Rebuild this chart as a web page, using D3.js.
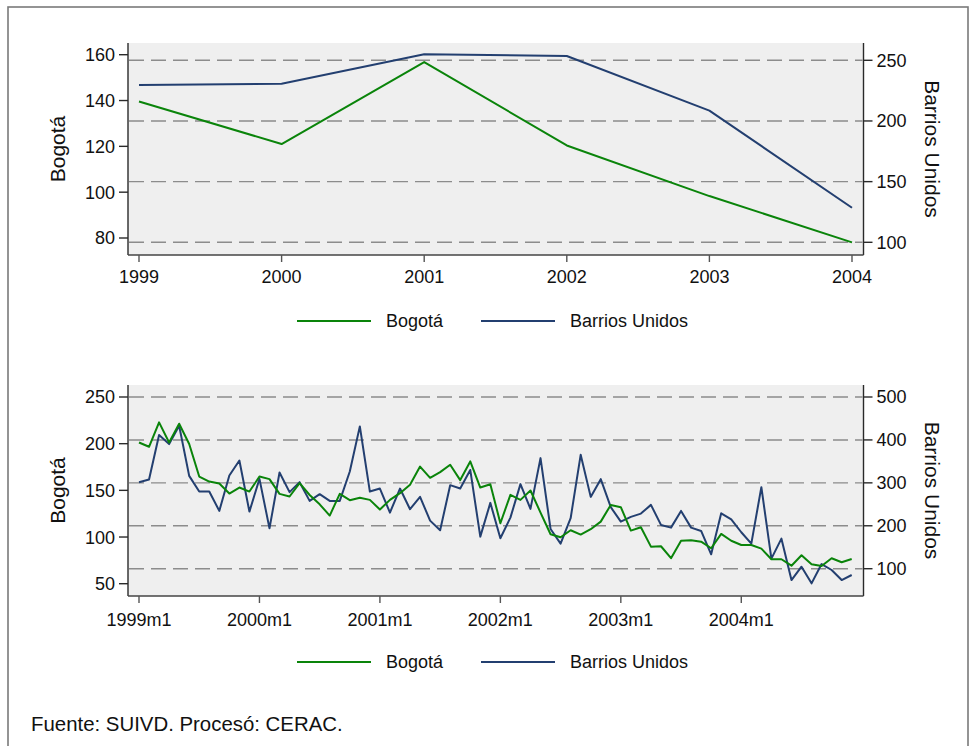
<!DOCTYPE html>
<html>
<head>
<meta charset="utf-8">
<script src="https://cdn.jsdelivr.net/npm/d3@7"></script>
<style>
html,body{margin:0;padding:0;background:#fff;}
svg{display:block;font-family:"Liberation Sans",Arial,sans-serif;}
</style>
</head>
<body>
<svg id="chart" width="971" height="746"></svg>
<script>
// ---------- DATA ----------
const years = [1999, 2000, 2001, 2002, 2003, 2004];
const bogotaAnnual = [139.6, 121.0, 156.8, 120.4, 98.3, 78.1];
const barriosAnnual = [229.6, 230.7, 255.0, 253.5, 208.5, 128.5];

const monthLabels = [];
for (const y of years) for (let m = 1; m <= 12; m++) monthLabels.push(y + "m" + m);

const bogotaMonthly = [
  201.3, 196.7, 222.8, 201.3, 221.4, 199.6, 164.8, 159.4, 157.3, 146.6, 153.0, 148.7,
  164.8, 162.0, 146.2, 143.4, 157.7, 145.0, 135.0, 123.0, 146.2, 139.5, 142.0, 139.8,
  129.4, 139.8, 147.0, 156.0, 175.5, 163.4, 169.5, 177.4, 161.0, 181.0, 153.0, 156.6,
  114.8, 145.2, 139.8, 149.8, 126.2, 103.0, 99.8, 107.3, 102.6, 108.4, 116.5, 134.4,
  132.0, 106.9, 110.5, 89.7, 90.1, 77.3, 96.0, 96.6, 95.0, 88.0, 103.3, 96.0,
  91.5, 91.5, 87.6, 76.2, 76.2, 69.3, 80.5, 70.8, 69.0, 77.3, 73.0, 76.5
];
const barriosMonthly = [
  301.6, 307.7, 411.3, 390.3, 433.0, 316.3, 279.7, 279.7, 234.7, 317.0, 352.0, 233.0,
  309.3, 194.0, 324.0, 278.3, 301.6, 258.0, 273.6, 258.0, 258.0, 326.4, 431.5, 279.7,
  286.7, 230.7, 286.7, 238.6, 267.3, 212.0, 189.6, 294.6, 286.7, 330.0, 174.7, 253.3,
  171.0, 219.0, 297.0, 239.3, 357.6, 192.6, 158.3, 217.6, 365.3, 267.3, 308.6, 243.3,
  209.7, 220.7, 228.4, 248.7, 202.0, 195.7, 234.6, 195.7, 188.0, 133.6, 229.0, 215.0,
  184.9, 158.3, 290.0, 123.4, 170.0, 73.6, 104.7, 65.9, 110.9, 97.0, 73.6, 85.3
];

const topLeftTicks = [80, 100, 120, 140, 160];
const topRightTicks = [100, 150, 200, 250];
const botLeftTicks = [50, 100, 150, 200, 250];
const botRightTicks = [100, 200, 300, 400, 500];
const botXTickLabels = ["1999m1", "2000m1", "2001m1", "2002m1", "2003m1", "2004m1"];

const seriesNames = ["Bogotá", "Barrios Unidos"];
const colors = ["#0a840a", "#233f70"];
const footer = "Fuente: SUIVD. Procesó: CERAC.";

// ---------- DRAW ----------
const svg = d3.select("#chart");
const axisColor = "#2a2a2a";
const gridColor = "#8c8c8c";

svg.append("rect").attr("x", 8).attr("y", 7).attr("width", 960).attr("height", 752)
  .attr("fill", "#fff").attr("stroke", "#7a7a7a").attr("stroke-width", 1.6);

function panel(opt) {
  const {x0, x1, y0, y1, xScale, yL, yR, leftTicks, rightTicks, xTicks, xTickFmt,
         dataX, dataL, dataR, labelDY, legendY} = opt;
  const g = svg.append("g");
  g.append("rect").attr("x", x0).attr("y", y0).attr("width", x1 - x0).attr("height", y1 - y0)
    .attr("fill", "#efefef");
  // grid (right axis ticks)
  g.selectAll(".grid").data(rightTicks).join("line")
    .attr("x1", x0 + 1).attr("x2", x1 - 1)
    .attr("y1", d => yR(d)).attr("y2", d => yR(d))
    .attr("stroke", gridColor).attr("stroke-width", 1.4).attr("stroke-dasharray", "15,7");
  // lines
  const lineL = d3.line().x((d, i) => xScale(dataX[i])).y(d => yL(d));
  const lineR = d3.line().x((d, i) => xScale(dataX[i])).y(d => yR(d));
  g.append("path").datum(dataR).attr("d", lineR).attr("fill", "none")
    .attr("stroke", colors[1]).attr("stroke-width", 2).attr("stroke-linejoin", "round");
  g.append("path").datum(dataL).attr("d", lineL).attr("fill", "none")
    .attr("stroke", colors[0]).attr("stroke-width", 2).attr("stroke-linejoin", "round");
  // axes lines
  g.append("line").attr("x1", x0).attr("x2", x0).attr("y1", y0).attr("y2", y1)
    .attr("stroke", axisColor).attr("stroke-width", 1.4);
  g.append("line").attr("x1", x1).attr("x2", x1).attr("y1", y0).attr("y2", y1)
    .attr("stroke", axisColor).attr("stroke-width", 1.4);
  g.append("line").attr("x1", x0).attr("x2", x1).attr("y1", y1).attr("y2", y1)
    .attr("stroke", "#444").attr("stroke-width", 1.4);
  // left ticks
  leftTicks.forEach(t => {
    g.append("line").attr("x1", x0 - 9).attr("x2", x0).attr("y1", yL(t)).attr("y2", yL(t))
      .attr("stroke", axisColor).attr("stroke-width", 1.4);
    g.append("text").attr("x", x0 - 13).attr("y", yL(t)).attr("dy", "0.36em")
      .attr("text-anchor", "end").attr("font-size", 18).attr("fill", "#111").text(t);
  });
  rightTicks.forEach(t => {
    g.append("line").attr("x1", x1).attr("x2", x1 + 9).attr("y1", yR(t)).attr("y2", yR(t))
      .attr("stroke", axisColor).attr("stroke-width", 1.4);
    g.append("text").attr("x", x1 + 13).attr("y", yR(t)).attr("dy", "0.36em")
      .attr("text-anchor", "start").attr("font-size", 18).attr("fill", "#111").text(t);
  });
  xTicks.forEach((t, i) => {
    g.append("line").attr("x1", xScale(t)).attr("x2", xScale(t)).attr("y1", y1).attr("y2", y1 + 7)
      .attr("stroke", "#555").attr("stroke-width", 1.4);
    g.append("text").attr("x", xScale(t)).attr("y", y1 + labelDY)
      .attr("text-anchor", "middle").attr("font-size", 18).attr("fill", "#111").text(xTickFmt(t, i));
  });
  // axis titles
  const cy = (y0 + y1) / 2;
  g.append("text").attr("transform", `translate(65,${cy}) rotate(-90)`)
    .attr("text-anchor", "middle").attr("font-size", 21).attr("fill", "#111").text(seriesNames[0]);
  g.append("text").attr("transform", `translate(925,${cy}) rotate(90)`)
    .attr("text-anchor", "middle").attr("font-size", 21).attr("fill", "#111").text(seriesNames[1]);
  // legend
  const lx = [297, 481], tx = [386, 570];
  seriesNames.forEach((n, i) => {
    g.append("line").attr("x1", lx[i]).attr("x2", lx[i] + 74).attr("y1", legendY).attr("y2", legendY)
      .attr("stroke", colors[i]).attr("stroke-width", 2);
    g.append("text").attr("x", tx[i]).attr("y", legendY).attr("dy", "0.36em")
      .attr("font-size", 18).attr("fill", "#111").text(n);
  });
}

// Top panel
const xTop = d3.scaleLinear().domain([1999, 2004]).range([139, 852]);
const yTopL = d3.scaleLinear().domain([80, 160]).range([238, 54.7]);
const yTopR = d3.scaleLinear().domain([100, 250]).range([242.3, 60.3]);
panel({
  x0: 128, x1: 863.5, y0: 43, y1: 255,
  xScale: xTop, yL: yTopL, yR: yTopR,
  leftTicks: topLeftTicks, rightTicks: topRightTicks,
  xTicks: years, xTickFmt: t => t,
  dataX: years, dataL: bogotaAnnual, dataR: barriosAnnual,
  labelDY: 28, legendY: 321
});

// Bottom panel
const monthIdx = monthLabels.map((d, i) => i);
const xBot = d3.scaleLinear().domain([0, 71]).range([139, 851.7]);
const yBotL = d3.scaleLinear().domain([50, 250]).range([583.7, 397]);
const yBotR = d3.scaleLinear().domain([100, 500]).range([568.7, 397]);
panel({
  x0: 128, x1: 863.5, y0: 385, y1: 596,
  xScale: xBot, yL: yBotL, yR: yBotR,
  leftTicks: botLeftTicks, rightTicks: botRightTicks,
  xTicks: botXTickLabels.map(l => monthLabels.indexOf(l)), xTickFmt: (t, i) => botXTickLabels[i],
  dataX: monthIdx, dataL: bogotaMonthly, dataR: barriosMonthly,
  labelDY: 30, legendY: 662
});

svg.append("text").attr("x", 31).attr("y", 731).attr("font-size", 20.4).attr("fill", "#111").text(footer);
</script>
</body>
</html>
